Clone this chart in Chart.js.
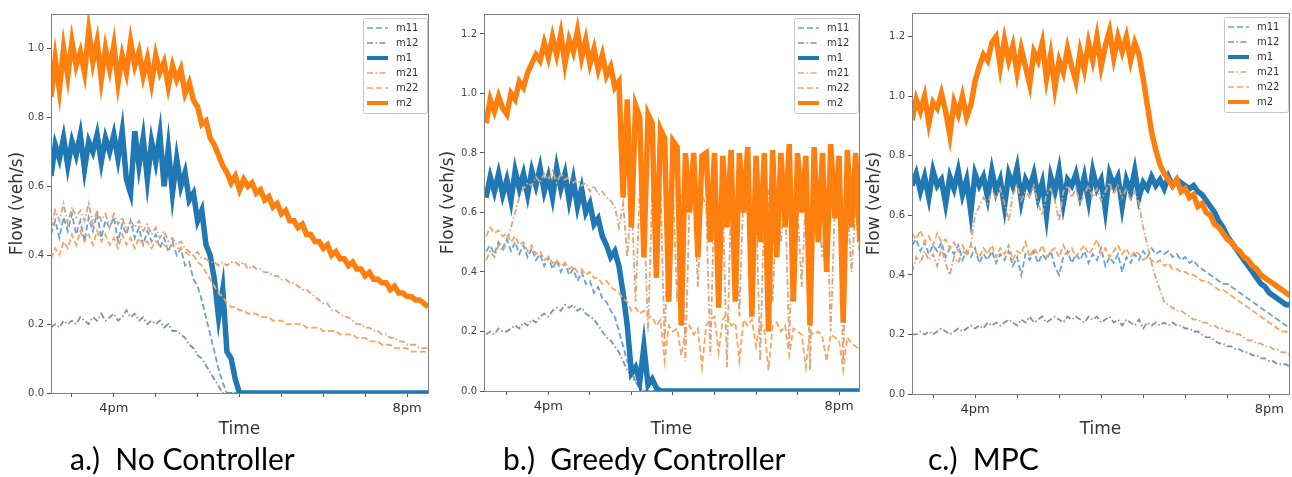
<!DOCTYPE html>
<html>
<head>
<meta charset="utf-8">
<script src="https://cdn.jsdelivr.net/npm/chart.js@4.4.1/dist/chart.umd.min.js"></script>
<style>
  body { margin: 0; background: #fff; width: 1292px; height: 477px; overflow: hidden; position: relative; }
  .panel { position: absolute; top: 0; height: 445px; }
  .caption { position: absolute; top: 443px; font-family: Lato, "Open Sans", sans-serif; font-size: 30px; line-height: 30px; color: #000; white-space: pre; }
</style>
</head>
<body>
<div class="panel" style="left:0;width:440px"><canvas id="chartA" width="440" height="445"></canvas></div>
<div class="panel" style="left:432px;width:440px"><canvas id="chartB" width="440" height="445"></canvas></div>
<div class="panel" style="left:862px;width:430px"><canvas id="chartC" width="430" height="445"></canvas></div>
<div class="caption" style="left:70px">a.)  No Controller</div>
<div class="caption" style="left:503px">b.)  Greedy Controller</div>
<div class="caption" style="left:928px">c.)  MPC</div>
<script>
// sample positions on the time axis (tick units: 0 = 3:30, 1 = 4pm ... 8 = 8pm)
const timeSteps = [
  -0.5,-0.4,-0.3,-0.2,-0.1,0,0.1,0.2,0.3,0.4,
  0.5,0.6,0.7,0.8,0.9,1,1.1,1.2,1.3,1.4,
  1.5,1.6,1.7,1.8,1.9,2,2.1,2.2,2.3,2.4,
  2.5,2.6,2.7,2.8,2.9,3,3.1,3.2,3.3,3.4,
  3.5,3.6,3.7,3.8,3.9,4,4.1,4.2,4.3,4.4,
  4.5,4.6,4.7,4.8,4.9,5,5.1,5.2,5.3,5.4,
  5.5,5.6,5.7,5.8,5.9,6,6.1,6.2,6.3,6.4,
  6.5,6.6,6.7,6.8,6.9,7,7.1,7.2,7.3,7.4,
  7.5,7.6,7.7,7.8,7.9,8,8.1,8.2,8.3,8.4,
  8.5
];
const xTickValues = [0, 1, 2, 3, 4, 5, 6, 7, 8];
const xTickText = ['', '4pm', '', '', '', '', '', '', '8pm'];
const yTicksA = [0, 0.2, 0.4, 0.6, 0.8, 1.0];
const yTicksBC = [0, 0.2, 0.4, 0.6, 0.8, 1.0, 1.2];
const seriesNames = ['m11', 'm12', 'm1', 'm21', 'm22', 'm2'];

// a.) No Controller
const noCtrlM11 = [
  0.46,0.5,0.45,0.51,0.47,0.52,0.46,0.5,0.44,0.51,
  0.47,0.52,0.45,0.5,0.48,0.51,0.44,0.49,0.46,0.5,
  0.45,0.48,0.43,0.47,0.44,0.46,0.42,0.45,0.41,0.44,
  0.4,0.42,0.37,0.38,0.33,0.31,0.27,0.22,0.17,0.12,
  0.07,0.03,0,0,0,0,0,0,0,0,
  0,0,0,0,0,0,0,0,0,0,
  0,0,0,0,0,0,0,0,0,0,
  0,0,0,0,0,0,0,0,0,0,
  0,0,0,0,0,0,0,0,0,0,
  0
];
const noCtrlM12 = [
  0.19,0.2,0.19,0.21,0.2,0.21,0.2,0.22,0.21,0.2,
  0.22,0.21,0.23,0.21,0.22,0.23,0.21,0.22,0.24,0.22,
  0.23,0.21,0.22,0.2,0.21,0.2,0.21,0.19,0.2,0.18,
  0.18,0.17,0.16,0.14,0.13,0.11,0.1,0.08,0.06,0.04,
  0.02,0,0,0,0,0,0,0,0,0,
  0,0,0,0,0,0,0,0,0,0,
  0,0,0,0,0,0,0,0,0,0,
  0,0,0,0,0,0,0,0,0,0,
  0,0,0,0,0,0,0,0,0,0,
  0
];
const noCtrlM1 = [
  0.63,0.72,0.68,0.74,0.66,0.73,0.69,0.75,0.65,0.73,
  0.7,0.75,0.67,0.74,0.7,0.75,0.68,0.76,0.62,0.58,
  0.76,0.66,0.74,0.62,0.73,0.67,0.75,0.6,0.71,0.58,
  0.68,0.6,0.64,0.56,0.58,0.5,0.53,0.43,0.4,0.33,
  0.22,0.3,0.12,0.1,0.04,0,0,0,0,0,
  0,0,0,0,0,0,0,0,0,0,
  0,0,0,0,0,0,0,0,0,0,
  0,0,0,0,0,0,0,0,0,0,
  0,0,0,0,0,0,0,0,0,0,
  0
];
const noCtrlM21 = [
  0.48,0.53,0.5,0.55,0.49,0.54,0.51,0.53,0.5,0.55,
  0.49,0.53,0.5,0.52,0.48,0.52,0.49,0.51,0.47,0.5,
  0.48,0.5,0.47,0.49,0.46,0.48,0.45,0.47,0.44,0.45,
  0.43,0.44,0.42,0.41,0.4,0.41,0.39,0.39,0.38,0.38,
  0.37,0.38,0.37,0.38,0.38,0.37,0.38,0.36,0.37,0.36,
  0.36,0.35,0.35,0.34,0.34,0.33,0.33,0.32,0.32,0.31,
  0.3,0.3,0.29,0.28,0.27,0.26,0.26,0.24,0.24,0.23,
  0.22,0.22,0.21,0.2,0.2,0.19,0.19,0.18,0.18,0.17,
  0.17,0.16,0.16,0.15,0.15,0.14,0.14,0.14,0.13,0.13,
  0.13
];
const noCtrlM22 = [
  0.39,0.42,0.4,0.44,0.42,0.46,0.43,0.47,0.44,0.46,
  0.43,0.47,0.44,0.46,0.43,0.45,0.42,0.46,0.43,0.45,
  0.42,0.45,0.43,0.44,0.42,0.44,0.43,0.43,0.42,0.43,
  0.42,0.42,0.41,0.4,0.4,0.38,0.37,0.35,0.33,0.31,
  0.29,0.28,0.26,0.25,0.25,0.24,0.24,0.23,0.23,0.23,
  0.22,0.22,0.22,0.21,0.21,0.21,0.2,0.2,0.2,0.2,
  0.2,0.19,0.19,0.19,0.19,0.18,0.18,0.18,0.18,0.17,
  0.17,0.17,0.17,0.16,0.16,0.16,0.15,0.15,0.15,0.14,
  0.14,0.14,0.13,0.13,0.13,0.13,0.12,0.12,0.12,0.12,
  0.12
];
const noCtrlM2 = [
  0.86,0.97,0.88,1.0,0.92,1.02,0.95,0.99,0.93,1.05,
  0.96,1.02,0.91,1.0,0.94,1.01,0.9,0.98,0.93,1.02,
  0.95,0.99,0.92,0.97,0.9,0.98,0.93,0.96,0.89,0.95,
  0.91,0.94,0.87,0.9,0.85,0.83,0.78,0.79,0.74,0.72,
  0.69,0.66,0.64,0.61,0.63,0.59,0.62,0.6,0.61,0.58,
  0.59,0.56,0.57,0.54,0.55,0.52,0.53,0.5,0.5,0.48,
  0.49,0.46,0.46,0.44,0.44,0.42,0.43,0.4,0.41,0.39,
  0.39,0.37,0.38,0.36,0.36,0.34,0.35,0.33,0.33,0.32,
  0.32,0.3,0.31,0.29,0.29,0.28,0.28,0.27,0.27,0.26,
  0.25
];

// b.) Greedy Controller
const greedyM11 = [
  0.47,0.49,0.46,0.5,0.48,0.51,0.47,0.5,0.46,0.49,
  0.45,0.48,0.44,0.46,0.42,0.45,0.41,0.44,0.4,0.43,
  0.39,0.41,0.37,0.4,0.36,0.37,0.33,0.35,0.31,0.3,
  0.27,0.25,0.2,0.15,0.1,0.07,0.03,0.01,0,0,
  0,0,0,0,0,0,0,0,0,0,
  0,0,0,0,0,0,0,0,0,0,
  0,0,0,0,0,0,0,0,0,0,
  0,0,0,0,0,0,0,0,0,0,
  0,0,0,0,0,0,0,0,0,0,
  0
];
const greedyM12 = [
  0.19,0.2,0.19,0.21,0.2,0.2,0.21,0.22,0.21,0.23,
  0.22,0.24,0.23,0.25,0.26,0.25,0.27,0.28,0.27,0.29,
  0.28,0.29,0.27,0.28,0.26,0.25,0.24,0.22,0.2,0.18,
  0.17,0.15,0.13,0.1,0.07,0.05,0.03,0.01,0,0,
  0,0,0,0,0,0,0,0,0,0,
  0,0,0,0,0,0,0,0,0,0,
  0,0,0,0,0,0,0,0,0,0,
  0,0,0,0,0,0,0,0,0,0,
  0,0,0,0,0,0,0,0,0,0,
  0
];
const greedyM1 = [
  0.65,0.72,0.67,0.73,0.66,0.71,0.64,0.74,0.68,0.73,
  0.66,0.74,0.69,0.75,0.67,0.72,0.65,0.75,0.68,0.73,
  0.64,0.71,0.62,0.68,0.6,0.63,0.56,0.58,0.52,0.49,
  0.45,0.47,0.42,0.33,0.22,0.06,0.08,0.03,0.15,0.02,
  0.04,0.01,0,0,0,0,0,0,0,0,
  0,0,0,0,0,0,0,0,0,0,
  0,0,0,0,0,0,0,0,0,0,
  0,0,0,0,0,0,0,0,0,0,
  0,0,0,0,0,0,0,0,0,0,
  0
];
const greedyM21 = [
  0.44,0.47,0.45,0.49,0.47,0.5,0.55,0.6,0.65,0.68,
  0.7,0.69,0.72,0.7,0.73,0.71,0.74,0.7,0.73,0.71,
  0.72,0.7,0.71,0.69,0.7,0.67,0.69,0.66,0.67,0.65,
  0.64,0.62,0.55,0.63,0.45,0.66,0.3,0.68,0.6,0.2,
  0.67,0.4,0.69,0.15,0.65,0.68,0.3,0.66,0.1,0.64,
  0.68,0.35,0.66,0.62,0.12,0.67,0.45,0.65,0.08,0.66,
  0.6,0.25,0.68,0.64,0.4,0.66,0.1,0.63,0.67,0.3,
  0.65,0.5,0.67,0.15,0.64,0.62,0.35,0.66,0.07,0.63,
  0.6,0.45,0.64,0.2,0.62,0.66,0.1,0.63,0.4,0.62,
  0.45
];
const greedyM22 = [
  0.52,0.55,0.53,0.54,0.52,0.53,0.5,0.52,0.49,0.5,
  0.47,0.49,0.46,0.47,0.44,0.45,0.43,0.44,0.42,0.43,
  0.41,0.42,0.4,0.41,0.39,0.4,0.38,0.38,0.36,0.37,
  0.35,0.34,0.33,0.31,0.3,0.27,0.28,0.26,0.27,0.25,
  0.25,0.22,0.24,0.1,0.22,0.2,0.21,0.12,0.2,0.22,
  0.19,0.21,0.08,0.22,0.24,0.25,0.13,0.24,0.26,0.22,
  0.23,0.1,0.24,0.22,0.24,0.15,0.23,0.21,0.07,0.22,
  0.23,0.2,0.22,0.12,0.21,0.2,0.19,0.08,0.2,0.19,
  0.2,0.18,0.1,0.19,0.18,0.17,0.07,0.18,0.16,0.15,
  0.14
];
const greedyM2 = [
  0.9,0.98,0.94,0.99,0.95,0.93,1.0,0.98,1.04,1.02,
  1.07,1.1,1.13,1.11,1.17,1.12,1.19,1.13,1.2,1.1,
  1.18,1.14,1.21,1.12,1.18,1.1,1.15,1.08,1.13,1.06,
  1.09,1.02,1.04,0.65,0.98,0.55,0.96,0.92,0.45,0.93,
  0.9,0.38,0.88,0.85,0.3,0.84,0.82,0.22,0.8,0.6,
  0.8,0.45,0.79,0.8,0.5,0.8,0.28,0.79,0.55,0.81,
  0.3,0.8,0.6,0.82,0.25,0.79,0.5,0.8,0.2,0.81,
  0.45,0.8,0.55,0.83,0.3,0.8,0.6,0.79,0.22,0.82,
  0.5,0.8,0.4,0.83,0.58,0.79,0.23,0.81,0.55,0.8,
  0.5
];

// c.) MPC
const mpcM11 = [
  0.5,0.52,0.48,0.51,0.47,0.5,0.48,0.51,0.46,0.49,
  0.47,0.5,0.45,0.48,0.46,0.49,0.44,0.47,0.45,0.48,
  0.44,0.47,0.45,0.48,0.43,0.46,0.4,0.47,0.45,0.48,
  0.44,0.47,0.45,0.48,0.43,0.4,0.46,0.48,0.44,0.47,
  0.45,0.48,0.44,0.47,0.45,0.49,0.43,0.46,0.44,0.47,
  0.41,0.46,0.44,0.47,0.45,0.48,0.46,0.49,0.47,0.48,
  0.47,0.48,0.46,0.47,0.45,0.46,0.44,0.45,0.43,0.42,
  0.41,0.4,0.39,0.38,0.37,0.37,0.36,0.35,0.34,0.33,
  0.32,0.31,0.3,0.29,0.28,0.27,0.26,0.25,0.24,0.23,
  0.22
];
const mpcM12 = [
  0.2,0.2,0.21,0.2,0.21,0.2,0.21,0.22,0.21,0.2,
  0.21,0.22,0.21,0.22,0.23,0.22,0.23,0.22,0.24,0.23,
  0.24,0.23,0.24,0.25,0.24,0.23,0.25,0.24,0.26,0.24,
  0.25,0.26,0.24,0.25,0.26,0.25,0.24,0.26,0.25,0.26,
  0.25,0.24,0.26,0.25,0.26,0.24,0.25,0.26,0.24,0.25,
  0.23,0.25,0.24,0.23,0.25,0.22,0.24,0.23,0.24,0.23,
  0.24,0.23,0.24,0.23,0.23,0.22,0.22,0.21,0.21,0.2,
  0.19,0.19,0.18,0.17,0.17,0.16,0.16,0.15,0.15,0.14,
  0.14,0.13,0.13,0.12,0.12,0.11,0.11,0.1,0.1,0.1,
  0.09
];
const mpcM1 = [
  0.7,0.74,0.68,0.73,0.66,0.75,0.7,0.72,0.64,0.73,
  0.69,0.75,0.67,0.72,0.61,0.74,0.7,0.73,0.66,0.75,
  0.68,0.72,0.63,0.74,0.7,0.76,0.65,0.72,0.69,0.74,
  0.66,0.71,0.6,0.73,0.68,0.75,0.64,0.72,0.7,0.74,
  0.67,0.73,0.65,0.75,0.69,0.72,0.62,0.74,0.7,0.73,
  0.63,0.72,0.68,0.75,0.66,0.71,0.69,0.73,0.7,0.72,
  0.69,0.73,0.7,0.72,0.71,0.7,0.69,0.7,0.68,0.67,
  0.65,0.63,0.61,0.58,0.56,0.53,0.51,0.49,0.47,0.45,
  0.43,0.41,0.39,0.37,0.36,0.34,0.33,0.32,0.31,0.3,
  0.3
];
const mpcM21 = [
  0.41,0.46,0.44,0.48,0.45,0.47,0.43,0.49,0.44,0.4,
  0.46,0.44,0.48,0.47,0.5,0.6,0.63,0.66,0.64,0.68,
  0.66,0.69,0.64,0.58,0.67,0.7,0.65,0.68,0.66,0.7,
  0.64,0.6,0.67,0.69,0.65,0.58,0.68,0.7,0.66,0.69,
  0.64,0.67,0.7,0.66,0.69,0.65,0.68,0.71,0.67,0.7,
  0.66,0.69,0.65,0.68,0.64,0.56,0.5,0.44,0.39,0.35,
  0.31,0.3,0.29,0.28,0.28,0.27,0.26,0.25,0.25,0.24,
  0.24,0.23,0.23,0.22,0.22,0.21,0.21,0.2,0.2,0.19,
  0.18,0.18,0.17,0.17,0.16,0.16,0.15,0.15,0.14,0.14,
  0.13
];
const mpcM22 = [
  0.54,0.52,0.55,0.51,0.53,0.5,0.54,0.51,0.52,0.49,
  0.51,0.48,0.5,0.47,0.5,0.48,0.46,0.49,0.47,0.5,
  0.46,0.49,0.47,0.5,0.45,0.48,0.47,0.51,0.46,0.49,
  0.47,0.5,0.46,0.48,0.49,0.46,0.5,0.47,0.49,0.46,
  0.48,0.5,0.47,0.49,0.52,0.47,0.49,0.46,0.48,0.5,
  0.47,0.49,0.46,0.48,0.47,0.45,0.46,0.45,0.44,0.45,
  0.43,0.44,0.42,0.42,0.41,0.41,0.4,0.4,0.39,0.38,
  0.38,0.37,0.36,0.35,0.35,0.34,0.33,0.32,0.31,0.3,
  0.29,0.28,0.27,0.26,0.25,0.24,0.23,0.22,0.21,0.21,
  0.2
];
const mpcM2 = [
  0.92,0.99,0.95,1.0,0.91,0.98,0.96,1.01,0.95,0.87,
  0.98,0.94,1.0,0.93,0.97,1.05,1.1,1.14,1.12,1.18,
  1.2,1.1,1.19,1.12,1.17,1.08,1.16,1.1,1.04,1.15,
  1.12,1.18,1.06,1.14,1.03,1.12,1.08,1.16,1.1,1.05,
  1.15,1.09,1.18,1.12,1.2,1.1,1.17,1.22,1.13,1.2,
  1.15,1.2,1.12,1.18,1.14,1.06,0.97,0.88,0.82,0.77,
  0.74,0.72,0.7,0.72,0.68,0.69,0.66,0.67,0.63,0.64,
  0.61,0.6,0.57,0.56,0.54,0.52,0.51,0.49,0.48,0.46,
  0.45,0.43,0.42,0.4,0.39,0.38,0.37,0.36,0.35,0.34,
  0.33
];

// looks of each series (matplotlib tab colours, thick totals)
const seriesStyle = {
  m11: { color: '#6aa2d2', width: 1.8, dash: [6, 3], order: 6 },
  m12: { color: '#7a94a8', width: 1.8, dash: [6, 2.5, 1.5, 2.5], order: 5 },
  m1:  { color: '#1f77b4', width: 5.5, dash: [],     order: 4 },
  m21: { color: '#dda279', width: 1.8, dash: [6, 2.5, 1.5, 2.5], order: 3 },
  m22: { color: '#f8a65e', width: 1.8, dash: [6, 3], order: 2 },
  m2:  { color: '#ff7f0e', width: 5.5, dash: [],     order: 1 }
};

function makeSets(values) {
  return seriesNames.map((name, i) => ({
    label: name,
    data: values[i],
    borderColor: seriesStyle[name].color,
    borderWidth: seriesStyle[name].width,
    borderDash: seriesStyle[name].dash,
    order: seriesStyle[name].order,
    pointRadius: 0,
    tension: 0,
    fill: false
  }));
}

// frame round the plot, like matplotlib spines
const frameBox = {
  id: 'frameBox',
  afterDatasetsDraw(chart) {
    const { ctx, chartArea: a } = chart;
    ctx.save();
    ctx.strokeStyle = '#808080';
    ctx.lineWidth = 1;
    ctx.strokeRect(Math.round(a.left) + 0.5, Math.round(a.top) + 0.5,
                   Math.round(a.right - a.left), Math.round(a.bottom - a.top));
    ctx.restore();
  }
};

// legend in the upper right corner, inside the axes
const cornerLegend = {
  id: 'cornerLegend',
  afterDraw(chart) {
    const { ctx, chartArea: a } = chart;
    const sets = chart.data.datasets;
    const w = 64, rowH = 15, h = sets.length * rowH + 5;
    const x0 = a.right - w - 1, y0 = a.top + 4;
    ctx.save();
    ctx.fillStyle = 'rgba(255,255,255,0.85)';
    ctx.strokeStyle = '#c8c8c8';
    ctx.lineWidth = 1;
    ctx.beginPath();
    ctx.roundRect(x0 + 0.5, y0 + 0.5, w, h, 2);
    ctx.fill();
    ctx.stroke();
    sets.forEach((ds, i) => {
      const y = y0 + 10 + i * rowH;
      ctx.strokeStyle = ds.borderColor;
      ctx.lineWidth = ds.borderWidth > 2 ? 4 : 1.5;
      ctx.setLineDash(ds.borderDash);
      ctx.beginPath();
      ctx.moveTo(x0 + 4, y);
      ctx.lineTo(x0 + 25, y);
      ctx.stroke();
      ctx.setLineDash([]);
      ctx.fillStyle = '#333';
      ctx.font = '10px "DejaVu Sans"';
      ctx.textBaseline = 'middle';
      ctx.fillText(ds.label, x0 + 33, y);
    });
    ctx.restore();
  }
};

function drawPanel(cfg) {
  new Chart(document.getElementById(cfg.id), {
    type: 'line',
    data: { labels: timeSteps, datasets: makeSets(cfg.values) },
    options: {
      responsive: false,
      animation: false,
      devicePixelRatio: 1,
      layout: { padding: { top: cfg.padTop, right: cfg.padRight, left: 0, bottom: 0 } },
      plugins: { legend: { display: false }, tooltip: { enabled: false } },
      scales: {
        x: {
          type: 'linear',
          min: cfg.xMin, max: cfg.xMax,
          afterBuildTicks: (axis) => { axis.ticks = xTickValues.map(v => ({ value: v })); },
          afterFit: (axis) => { axis.height = cfg.xAxisHeight; },
          grid: { drawOnChartArea: false, drawTicks: true, tickLength: 4, tickColor: '#555' },
          border: { display: false },
          ticks: {
            autoSkip: false, maxRotation: 0, padding: 4, color: '#333',
            font: { family: 'DejaVu Sans', size: 13 },
            callback: (v) => xTickText[xTickValues.indexOf(v)] || ''
          },
          title: { display: true, text: 'Time', color: '#333', font: { family: 'DejaVu Sans', size: 17 }, padding: { top: 0, bottom: 5 } }
        },
        y: {
          min: 0, max: cfg.yMax,
          afterBuildTicks: (axis) => { axis.ticks = cfg.yTicks.map(v => ({ value: v })); },
          afterFit: (axis) => { axis.width = cfg.yAxisWidth; },
          grid: { drawOnChartArea: false, drawTicks: true, tickLength: 4, tickColor: '#555' },
          border: { display: false },
          ticks: {
            padding: 3, color: '#444',
            font: { family: 'DejaVu Sans', size: 10 },
            callback: (v) => v.toFixed(1)
          },
          title: { display: true, text: 'Flow (veh/s)', color: '#333', font: { family: 'DejaVu Sans', size: 17 }, padding: { top: cfg.yTitlePad, bottom: 0 } }
        }
      }
    },
    plugins: [frameBox, cornerLegend]
  });
}

drawPanel({
  id: 'chartA',
  values: [noCtrlM11, noCtrlM12, noCtrlM1, noCtrlM21, noCtrlM22, noCtrlM2],
  yMax: 1.1, yTicks: yTicksA, xMin: -0.5, xMax: 8.5,
  padTop: 14, padRight: 12, yAxisWidth: 51, xAxisHeight: 52, yTitlePad: 7
});
drawPanel({
  id: 'chartB',
  values: [greedyM11, greedyM12, greedyM1, greedyM21, greedyM22, greedyM2],
  yMax: 1.267, yTicks: yTicksBC, xMin: -0.55, xMax: 8.48,
  padTop: 14, padRight: 13, yAxisWidth: 52, xAxisHeight: 54, yTitlePad: 6
});
drawPanel({
  id: 'chartC',
  values: [mpcM11, mpcM12, mpcM1, mpcM21, mpcM22, mpcM2],
  yMax: 1.28, yTicks: yTicksBC, xMin: -0.5, xMax: 8.47,
  padTop: 13, padRight: 3, yAxisWidth: 50, xAxisHeight: 51, yTitlePad: 2
});
</script>
</body>
</html>
